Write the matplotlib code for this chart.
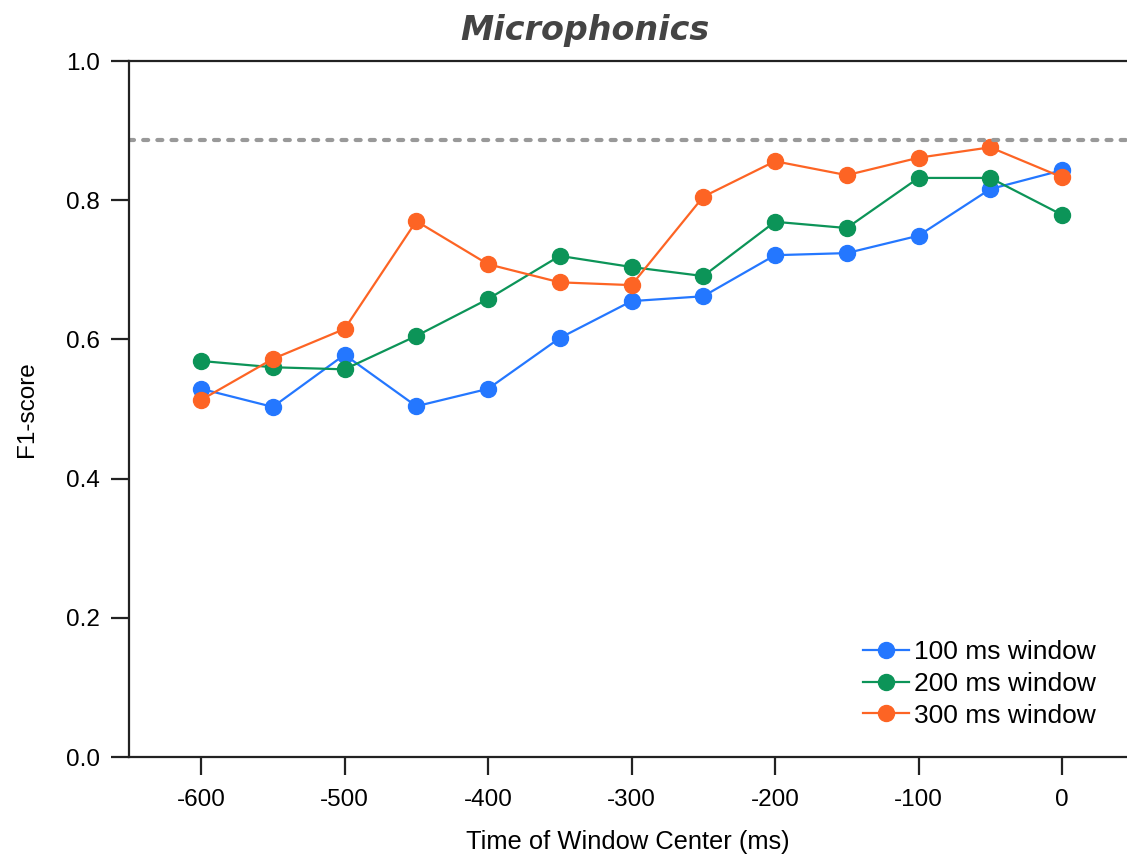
import numpy as np
import matplotlib.pyplot as plt

plt.rcParams['font.family'] = ['Liberation Sans', 'DejaVu Sans']
plt.rcParams['axes.unicode_minus'] = False

# ==== data ===========================================================
t_center = [-600, -550, -500, -450, -400, -350, -300, -250, -200, -150, -100, -50, 0]
f1_100 = [0.529, 0.503, 0.578, 0.504, 0.529, 0.602, 0.655, 0.662, 0.721, 0.724, 0.749, 0.816, 0.843]
f1_200 = [0.569, 0.560, 0.557, 0.605, 0.658, 0.720, 0.704, 0.691, 0.769, 0.760, 0.832, 0.832, 0.779]
f1_300 = [0.513, 0.572, 0.615, 0.770, 0.708, 0.682, 0.678, 0.805, 0.856, 0.836, 0.861, 0.876, 0.833]
baseline = 0.886
labels = ["100 ms window", "200 ms window", "300 ms window"]
colors = ["#2477ff", "#0c9458", "#fd6424"]

fig = plt.figure(figsize=(11.27, 8.58), dpi=100)
ax = fig.add_axes([0.1145, 0.1177, 0.8855, 0.8112])

for y, lab, c in zip([f1_100, f1_200, f1_300], labels, colors):
	ax.plot(t_center, y, '-o', color=c, lw=1.6, ms=11.5, label=lab)

ax.axhline(baseline, color='#999999', lw=3, ls=(0, (1.2, 2.2)), dash_capstyle='round')

ax.set_xlim(-650.2, 45.3)
ax.set_ylim(0.0, 1.0)
ax.set_xticks(np.arange(-600, 1, 100))
ax.set_yticks(np.arange(0, 1.01, 0.2))
ax.set_yticklabels(["%.1f" % v for v in np.arange(0, 1.01, 0.2)])
ax.spines['right'].set_visible(False)
for s in ['left', 'top', 'bottom']:
	ax.spines[s].set_linewidth(1.6)
	ax.spines[s].set_color('#222222')
ax.tick_params(axis='both', direction='out', length=13, width=1.6, labelsize=17.5, color='#222222', pad=8)
ax.tick_params(axis='x', pad=10)

ax.set_xlabel("Time of Window Center (ms)", fontsize=18.4, labelpad=14)
ax.set_ylabel("F1-score", fontsize=17.5, labelpad=20)

fig.text(0.519, 0.964, "Microphonics", fontsize=24, fontweight='bold', fontstyle='italic',
	color='#444444', ha='center', va='center', family='DejaVu Sans')

ax.legend(loc='lower right', bbox_to_anchor=(0.993, 0.008), frameon=False, fontsize=19,
	handlelength=1.75, labelspacing=0.3, handletextpad=0.2)

fig.savefig("out.png", dpi=100)
